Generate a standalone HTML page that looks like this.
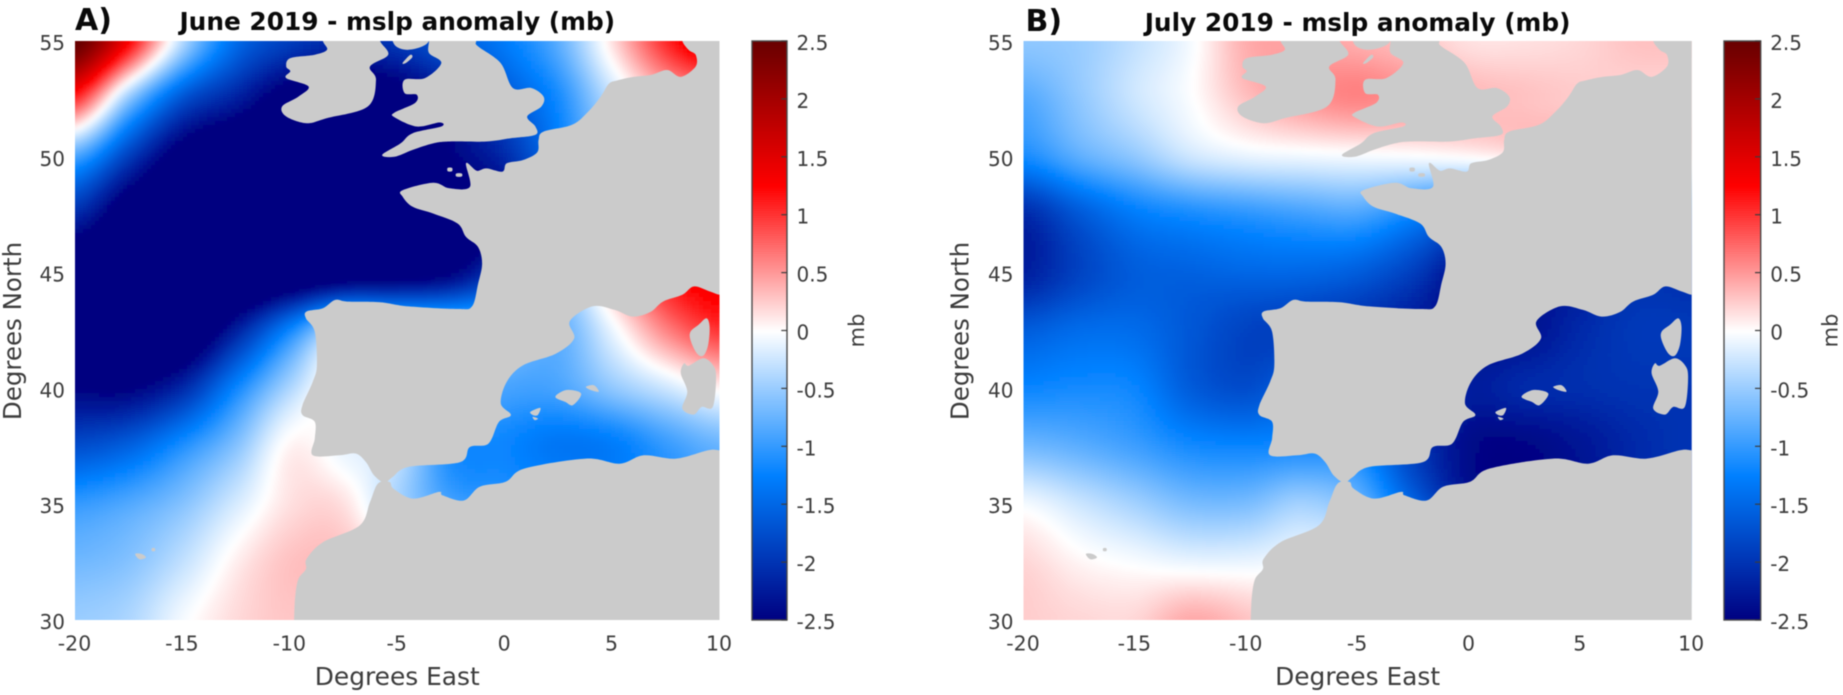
<!DOCTYPE html>
<html lang="en">
<head>
<meta charset="utf-8">
<title>June and July 2019 mslp anomaly maps</title>
<style>
html,body{margin:0;padding:0;background:#fff;width:1843px;height:695px;overflow:hidden}
svg{display:block;filter:blur(0.6px)}
text{font-family:"DejaVu Sans","Liberation Sans",sans-serif;fill:#3c3c3c}
.b{font-weight:bold;fill:#0a0a0a}
</style>
</head>
<body>
<svg id="fig" xmlns="http://www.w3.org/2000/svg" width="1843" height="695" viewBox="0 0 1843 695">
<defs><filter id="heat-smooth" x="-5%" y="-5%" width="110%" height="110%"><feGaussianBlur stdDeviation="2"/></filter></defs>
</svg>
<script>
/* Grid axes of the anomaly fields */
const lons=[-20,-17.5,-15,-12.5,-10,-7.5,-5,-2.5,0,2.5,5,7.5,10];
const lats=[55,52.5,50,47.5,45,42.5,40,37.5,35,32.5,30];
/* June 2019 mslp anomaly (mb); rows follow lats, columns follow lons */
const juneAnomaly=[
[2.6,1.3,-0.35,-1.45,-1.9,-2.1,-1.95,-1.6,-1.3,-0.8,0.15,1.05,1.6],
[1.05,-0.55,-1.7,-2.2,-2.7,-2.9,-2.7,-2.3,-1.7,-1.15,-0.3,0.3,0.5],
[-0.9,-1.9,-2.7,-3,-3.1,-3.1,-2.9,-2.5,-2.1,-1.3,-0.5,0,0],
[-2.1,-2.8,-3.1,-3.2,-3.2,-3.2,-3,-2.8,-2.5,-1.5,-0.3,0.8,1.3],
[-2.9,-3.1,-3.2,-3.2,-3,-2.8,-2.7,-2.5,-1.8,-0.8,0.3,1.1,1.4],
[-3.1,-3.1,-3,-2.2,-1.2,-0.3,-0.5,-0.6,-0.7,-0.8,-0.1,0.6,1],
[-2.5,-2.5,-2.1,-1.2,-0.4,0.1,-0.5,-0.7,-0.9,-0.9,-0.55,-0.25,0.05],
[-1.75,-1.55,-1.1,-0.6,0.05,-0.1,-0.3,-1.1,-1.2,-1.35,-1.3,-1,-0.75],
[-1,-0.85,-0.6,-0.2,0.15,0.15,-0.4,-0.9,-1,-1,-1,-1,-0.8],
[-0.7,-0.6,-0.3,0.08,0.3,0.3,0.1,-0.2,-0.4,-0.4,-0.4,-0.4,-0.4],
[-0.5,-0.4,-0.05,0.18,0.28,0.2,0.1,0,0,0,0,0,0]
];
/* July 2019 mslp anomaly (mb); rows follow lats, columns follow lons */
const julyAnomaly=[
[-0.55,-0.5,-0.3,-0.05,0.4,0.45,0.4,0.3,0.15,0.15,0.2,0.3,0.3],
[-0.85,-0.55,-0.25,-0.02,0.3,0.5,0.6,0.5,0.35,0.3,0.25,0.2,0.2],
[-1.15,-0.8,-0.55,-0.25,-0.12,-0.08,-0.05,-0.03,0.02,0.1,0.15,0.15,0.15],
[-2.1,-1.65,-1.3,-1.15,-1.05,-0.95,-0.9,-1.2,-1.6,-1.8,-1.8,-1.7,-1.6],
[-2.2,-1.85,-1.6,-1.55,-1.5,-1.5,-1.6,-1.9,-2.4,-2.3,-2.2,-2,-2],
[-1.6,-1.45,-1.45,-1.65,-1.85,-1.9,-2,-2.2,-2.4,-2.35,-2.1,-1.95,-1.95],
[-1.2,-1.15,-1.2,-1.6,-1.75,-1.5,-1.5,-1.8,-2.2,-2.1,-2.05,-2,-2],
[-0.7,-0.8,-0.95,-1.15,-1.2,-1.15,-1.2,-1.9,-2.4,-2.45,-2.3,-2.1,-2],
[-0.05,-0.25,-0.45,-0.65,-0.65,-0.45,-0.7,-1.5,-2.2,-2.3,-2.2,-2,-2],
[0.2,0.05,-0.03,-0.1,-0.1,-0.05,-0.1,-0.5,-1,-1,-1,-1,-1],
[0.25,0.2,0.2,0.42,0.3,0.1,0.1,0.1,0.1,0.1,0.1,0.1,0.1]
];
/* Tick labels */
const xTicks=[-20,-15,-10,-5,0,5,10];
const yTicks=[55,50,45,40,35,30];
const cbarTicks=[2.5,2,1.5,1,0.5,0,-0.5,-1,-1.5,-2,-2.5];
/* Colour scale: value, then red, green, blue */
const cmapValues=[-2.5,-1.25,0,1.25,2.5];
const cmapRed=[0,0,255,255,104];
const cmapGreen=[0,128,255,0,0];
const cmapBlue=[128,255,255,0,0];
/* Coastlines as [lon,lat]; open-edge points run past the map frame and are clipped */
const mainlandEurope=[[8.27,55.5],[8.27,55],[8.58,54.6],[8.89,54.4],[8.89,53.9],[8.2,53.45],[7.57,53.75],[6.8,53.53],[6,53.45],[5.25,53.3],[4.85,53.15],[4.47,52.6],[3.9,51.96],[3.14,51.38],[1.81,51.09],[1.58,50.73],[1.52,50.2],[0.86,49.86],[0.1,49.72],[-0.1,49.36],[-0.85,49.5],[-1.3,49.4],[-1.8,49.72],[-1.62,48.7],[-2.57,48.64],[-3.33,48.88],[-4.75,48.56],[-4.75,48.28],[-4.28,47.84],[-3.33,47.55],[-2.19,47.12],[-1.8,46.54],[-1.24,46.11],[-1.05,45.39],[-1.24,44.5],[-1.52,43.54],[-2.19,43.43],[-4.47,43.54],[-5.8,43.72],[-7.32,43.75],[-7.89,43.82],[-8.46,43.46],[-9.22,43.32],[-9.25,43.03],[-8.84,42.45],[-8.74,41],[-8.93,40.29],[-9.41,39.28],[-9.41,38.85],[-8.84,38.56],[-8.84,37.84],[-8.93,37.11],[-7.7,37.11],[-6.94,37.19],[-6.46,36.82],[-6.08,36.25],[-5.6,35.93],[-5.23,36.16],[-4.47,36.61],[-2.09,36.81],[-1.62,37.47],[-0.76,37.61],[-0.27,38.55],[0.29,38.85],[-0.18,39.35],[0.1,40.29],[0.86,41],[2.38,41.5],[3.23,42.15],[3.03,42.9],[4.08,43.54],[5.12,43.39],[5.95,43.1],[6.78,43.3],[7.37,43.75],[8.27,44.04],[8.8,44.4],[9.5,44.2],[10,44.04],[10.6,43.95],[10.6,55.5]];
const africa=[[-5.9,35.89],[-6.27,35.09],[-6.75,34.08],[-8.46,33.36],[-9.22,32.64],[-9.25,32.2],[-9.6,31.77],[-9.75,31],[-9.8,30],[-9.8,29.4],[10.6,29.4],[10.6,37.33],[10,37.33],[9.47,37.33],[7.97,36.97],[6.47,37.11],[5.35,36.75],[3.78,36.97],[0.93,36.54],[0.05,35.97],[-1.15,35.76],[-1.9,35.16],[-2.88,35.38],[-3.06,35.53],[-4.26,35.24],[-5.17,35.67],[-5.36,35.96]];
const greatBritain=[[-1.33,55.5],[-1.33,55],[-1.24,54.77],[-0.19,54.05],[0.38,52.97],[1.24,52.97],[1.81,52.6],[1.71,52.17],[1.05,51.74],[1.43,51.31],[1.43,50.95],[0.28,50.8],[-0.86,50.66],[-2.57,50.66],[-3.33,50.58],[-4.28,50.3],[-5.13,50],[-5.7,50.08],[-4.85,50.58],[-4.28,51.02],[-2.95,51.31],[-3.04,51.48],[-4.09,51.31],[-5.13,51.71],[-5.13,51.91],[-4.18,52.32],[-4.09,52.68],[-4.66,52.75],[-4.66,53.33],[-3.71,53.4],[-2.95,54.05],[-3.52,54.48],[-3.52,55],[-3.52,55.5]];
const galloway=[[-5.13,55.5],[-5.13,54.84],[-4.47,54.62],[-3.6,54.9],[-3.6,55.5]];
const ireland=[[-8.46,55.5],[-8.46,55],[-8.27,54.62],[-8.84,54.41],[-9.98,54.26],[-10.17,53.9],[-9.98,53.69],[-10.17,53.4],[-9.13,53.04],[-9.6,52.6],[-10.36,52.17],[-10.17,51.74],[-9.22,51.45],[-8.27,51.67],[-6.37,52.17],[-5.99,53.33],[-6.27,53.9],[-5.42,54.41],[-5.8,55],[-5.8,55.5]];
const isleOfMan=[[-4.75,54.05],[-4.4,54.4],[-4.3,54.3],[-4.6,54.05]];
const mallorca=[[2.36,39.64],[2.88,39.93],[3.56,39.78],[3.18,39.28],[2.81,39.42]];
const menorca=[[3.78,40.07],[4.16,40.14],[4.38,39.86],[4,39.93]];
const ibiza=[[1.2,38.99],[1.66,39.16],[1.54,38.85],[1.31,38.85]];
const formentera=[[1.3,38.77],[1.55,38.7],[1.4,38.63]];
const corsica=[[9.39,43.03],[9.54,42.67],[9.47,41.87],[9.24,41.41],[8.94,41.52],[8.65,42.09],[8.65,42.45],[9.02,42.74]];
const sardinia=[[9.24,41.3],[9.69,41.01],[9.84,40.5],[9.69,39.2],[9.17,39.2],[8.8,38.87],[8.27,39.13],[8.5,39.86],[8.2,40.65],[8.35,41.08],[8.57,40.98]];
const jersey=[[-2.25,49.28],[-2,49.28],[-2,49.15],[-2.25,49.15]];
const guernsey=[[-2.65,49.52],[-2.45,49.52],[-2.45,49.38],[-2.65,49.38]];
const madeira=[[-17.2,32.85],[-16.9,32.85],[-16.7,32.7],[-17,32.62]];
const portoSanto=[[-16.42,33.1],[-16.28,33.1],[-16.28,32.98],[-16.42,32.98]];
const landShapes=[mainlandEurope,africa,greatBritain,galloway,ireland,isleOfMan,mallorca,menorca,ibiza,formentera,corsica,sardinia,jersey,guernsey,madeira,portoSanto];

const NS='http://www.w3.org/2000/svg';
const fig=document.getElementById('fig');
function el(parent,tag,attrs){
  const e=document.createElementNS(NS,tag);
  for(const k in attrs)e.setAttribute(k,attrs[k]);
  parent.appendChild(e);
  return e;
}
function colour(v){
  const c=Math.max(cmapValues[0],Math.min(cmapValues[cmapValues.length-1],v));
  let i=0;
  while(i<cmapValues.length-2&&c>cmapValues[i+1])i++;
  const t=(c-cmapValues[i])/(cmapValues[i+1]-cmapValues[i]);
  const m=a=>Math.round(a[i]+(a[i+1]-a[i])*t);
  return 'rgb('+m(cmapRed)+','+m(cmapGreen)+','+m(cmapBlue)+')';
}
function cr(p0,p1,p2,p3,t){
  return 0.5*(2*p1+(p2-p0)*t+(2*p0-5*p1+4*p2-p3)*t*t+(3*p1-p0-3*p2+p3)*t*t*t);
}
function sample(field,lon,lat){
  const u=(lon-lons[0])/(lons[1]-lons[0]);
  const v=(lats[0]-lat)/(lats[0]-lats[1]);
  const i=Math.min(lons.length-2,Math.max(0,Math.floor(u)));
  const j=Math.min(lats.length-2,Math.max(0,Math.floor(v)));
  const g=(r,c)=>field[Math.max(0,Math.min(lats.length-1,r))][Math.max(0,Math.min(lons.length-1,c))];
  const row=[];
  for(let r=-1;r<3;r++)row.push(cr(g(j+r,i-1),g(j+r,i),g(j+r,i+1),g(j+r,i+2),u-i));
  return cr(row[0],row[1],row[2],row[3],Math.min(1,v-j));
}
function smoothPath(shape,xs,ys){
  const n=shape.length;
  const px=i=>xs(shape[(i+n)%n][0]);
  const py=i=>ys(shape[(i+n)%n][1]);
  let d='M'+px(0).toFixed(1)+' '+py(0).toFixed(1);
  for(let i=0;i<n;i++){
    const c1x=px(i)+(px(i+1)-px(i-1))/6,c1y=py(i)+(py(i+1)-py(i-1))/6;
    const c2x=px(i+1)-(px(i+2)-px(i))/6,c2y=py(i+1)-(py(i+2)-py(i))/6;
    d+='C'+c1x.toFixed(1)+' '+c1y.toFixed(1)+' '+c2x.toFixed(1)+' '+c2y.toFixed(1)+' '+px(i+1).toFixed(1)+' '+py(i+1).toFixed(1);
  }
  return d+'Z';
}
function drawPanel(field,id,g){
  const panel=el(fig,'g',{});
  
  
  const xs=lon=>g.left+(lon-(-20))/30*(g.right-g.left);
  const ys=lat=>g.top+(55-lat)/25*(g.bottom-g.top);
  const lonAt=x=>-20+(x-g.left)/(g.right-g.left)*30;
  const latAt=y=>55-(y-g.top)/(g.bottom-g.top)*25;
  const clip=el(panel,'clipPath',{id:id+'-clip'});
  el(clip,'rect',{x:g.left,y:g.top,width:g.right-g.left,height:g.bottom-g.top});
  const frame=el(panel,'g',{'clip-path':'url(#'+id+'-clip)'});
  const heat=el(frame,'g',{filter:'url(#heat-smooth)','shape-rendering':'crispEdges'});
  
  
  const step=4;
  for(let y=g.top-8;y<g.bottom+8;y+=step){
    for(let x=g.left-8;x<g.right+8;x+=step){
      const lon=Math.max(-20,Math.min(10,lonAt(x+step/2)));
      const lat=Math.max(30,Math.min(55,latAt(y+step/2)));
      const v=sample(field,lon,lat);
      const c=el(heat,'rect',{x:x,y:y,width:step+0.5,height:step+0.5,fill:colour(v)});
      
      
    }
  }
  const land=el(panel,'g',{'clip-path':'url(#'+id+'-clip)',fill:'#cbcbcb'});
  
  
  landShapes.forEach(shape=>{
    const s=el(land,'path',{d:smoothPath(shape,xs,ys)});
    
    
  });
  xTicks.forEach(t=>{
    const e=el(panel,'text',{x:xs(t)-0.5,y:650.7,'font-size':20.5,'text-anchor':'middle'});
    e.textContent=t;
    
    
  });
  yTicks.forEach(t=>{
    const e=el(panel,'text',{x:g.left-10,y:ys(t)+9,'font-size':20,'text-anchor':'end'});
    e.textContent=t;
    
    
  });
  const xl=el(panel,'text',{x:(g.left+g.right)/2,y:685,'font-size':24.5,'text-anchor':'middle',textLength:165,lengthAdjust:'spacingAndGlyphs'});
  xl.textContent='Degrees East';
  
  
  const yl=el(panel,'text',{'font-size':24.5,'text-anchor':'middle',transform:'translate('+g.yLabelX+' 331) rotate(-90)'});
  yl.textContent='Degrees North';
  
  
  const tt=el(panel,'text',{x:(g.left+g.right)/2,y:g.titleY,'font-size':24.8,'text-anchor':'middle','class':'b'});
  tt.textContent=g.title;
  
  
  const lt=el(panel,'text',{x:g.left+g.letterDx,y:g.titleY,'font-size':30,'class':'b'});
  lt.textContent=g.letter;
  
  
  const bar=el(panel,'g',{});
  
  
  const cy=v=>(g.top+g.bottom)/2-v*(g.bottom-g.top)/5;
  const ramp=el(bar,'g',{'shape-rendering':'crispEdges'});
  const bandCount=256;
  for(let i=0;i<bandCount;i++){
    const v=-2.5+(i+0.5)*5/bandCount;
    const yt=cy(-2.5+(i+1)*5/bandCount);
    const b=el(ramp,'rect',{x:g.barL,y:yt,width:g.barR-g.barL,height:(g.bottom-g.top)/bandCount+0.6,fill:colour(v)});
    
    
  }
  el(bar,'rect',{x:g.barL,y:g.top,width:g.barR-g.barL,height:g.bottom-g.top,fill:'none',stroke:'#4a4a4a','stroke-width':1.4});
  cbarTicks.forEach(t=>{
    el(bar,'line',{x1:g.barR-5.7,x2:g.barR,y1:cy(t),y2:cy(t),stroke:'#3c3c3c','stroke-width':1.2});
    const e=el(bar,'text',{x:g.barR+9.5,y:cy(t)+9,'font-size':20});
    e.textContent=t;
    
    
  });
  const ml=el(bar,'text',{'font-size':21,'text-anchor':'middle',transform:'translate('+(g.barR+77)+' 330.5) rotate(-90)'});
  ml.textContent='mb';
  
  
}
drawPanel(juneAnomaly,'june',{left:75,right:719.5,top:41,bottom:620,barL:752,barR:787,yLabelX:21,title:'June 2019 - mslp anomaly (mb)',letter:'A)',letterDx:0,titleY:30});
drawPanel(julyAnomaly,'july',{left:1023.5,right:1691.7,top:41,bottom:620,barL:1724,barR:1760.7,yLabelX:968.5,title:'July 2019 - mslp anomaly (mb)',letter:'B)',letterDx:2,titleY:31});
</script>
</body>
</html>
